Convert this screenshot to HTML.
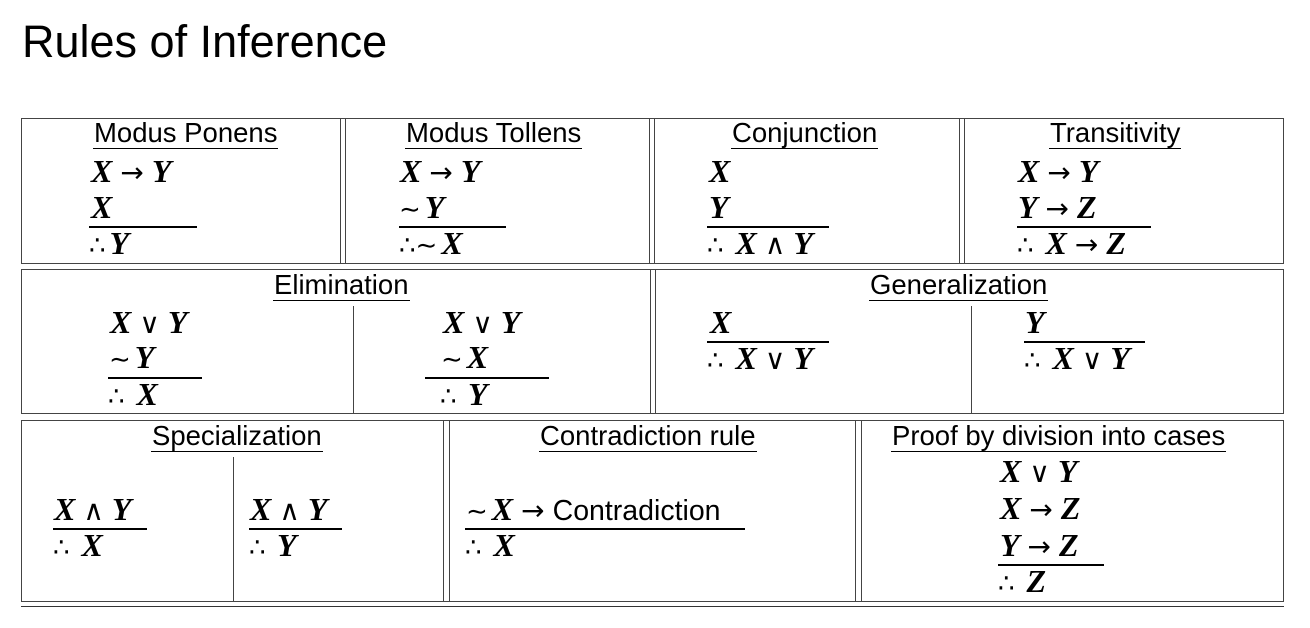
<!DOCTYPE html>
<html><head><meta charset="utf-8"><style>
body{margin:0;width:1310px;height:628px;background:#fff;position:relative;overflow:hidden;font-family:"Liberation Sans",sans-serif;color:#000}
div{position:absolute}
.t{left:22px;top:14px;font-size:45px;line-height:56px}
.b{border:1px solid #444;box-sizing:border-box}
.v{width:1px;background:#444}
.h{position:absolute;font-size:27.5px;line-height:30px;white-space:nowrap;border-bottom:1.5px solid #000;padding:0 1px}
.m{position:absolute;font-family:"Liberation Serif",serif;font-weight:bold;font-style:italic;font-size:32px;line-height:30px;white-space:nowrap}
.m b{font-style:normal;font-weight:normal;font-family:"DejaVu Sans",sans-serif;font-size:28px;margin:0 8px}
.m i{font-style:normal;font-weight:normal;font-family:"DejaVu Sans",sans-serif;font-size:26px;margin-right:4px}
.m s{text-decoration:none;font-style:normal;font-weight:normal;font-family:"Liberation Sans",sans-serif;font-size:28.5px}
.r{height:1.5px;background:#000}
</style></head><body>
<div class="t">Rules of Inference</div>

<!-- row1 -->
<div class="b" style="left:21px;top:118px;width:1263px;height:146px"></div>
<div class="v" style="left:340px;top:118px;height:146px"></div><div class="v" style="left:345px;top:118px;height:146px"></div>
<div class="v" style="left:649px;top:118px;height:146px"></div><div class="v" style="left:654px;top:118px;height:146px"></div>
<div class="v" style="left:959px;top:118px;height:146px"></div><div class="v" style="left:964px;top:118px;height:146px"></div>

<div class="h" style="left:93px;top:118px">Modus Ponens</div>
<div class="m" style="left:91px;top:156px">X<b>→</b>Y</div>
<div class="m" style="left:91px;top:192px">X</div>
<div class="r" style="left:89px;top:226px;width:108px"></div>
<div class="m" style="left:89px;top:228px"><i>∴</i>Y</div>

<div class="h" style="left:405px;top:118px">Modus Tollens</div>
<div class="m" style="left:400px;top:156px">X<b>→</b>Y</div>
<div class="m" style="left:399px;top:192px"><i>∼</i>Y</div>
<div class="r" style="left:399px;top:226px;width:107px"></div>
<div class="m" style="left:399px;top:228px"><i>∴∼</i>X</div>

<div class="h" style="left:731px;top:118px">Conjunction</div>
<div class="m" style="left:709px;top:156px">X</div>
<div class="m" style="left:709px;top:192px">Y</div>
<div class="r" style="left:707px;top:226px;width:122px"></div>
<div class="m" style="left:707px;top:228px"><i>∴</i> X<b>∧</b>Y</div>

<div class="h" style="left:1049px;top:118px">Transitivity</div>
<div class="m" style="left:1018px;top:156px">X<b>→</b>Y</div>
<div class="m" style="left:1018px;top:192px">Y<b>→</b>Z</div>
<div class="r" style="left:1017px;top:226px;width:134px"></div>
<div class="m" style="left:1017px;top:228px"><i>∴</i> X<b>→</b>Z</div>

<!-- row2 -->
<div class="b" style="left:21px;top:269px;width:1263px;height:145px"></div>
<div class="v" style="left:650px;top:269px;height:145px"></div><div class="v" style="left:655px;top:269px;height:145px"></div>
<div class="v" style="left:353px;top:306px;height:108px"></div>
<div class="v" style="left:971px;top:306px;height:108px"></div>

<div class="h" style="left:273px;top:270px">Elimination</div>
<div class="m" style="left:110px;top:307px">X<b>∨</b>Y</div>
<div class="m" style="left:109px;top:342px"><i>∼</i>Y</div>
<div class="r" style="left:108px;top:377px;width:94px"></div>
<div class="m" style="left:108px;top:379px"><i>∴</i> X</div>
<div class="m" style="left:443px;top:307px">X<b>∨</b>Y</div>
<div class="m" style="left:441px;top:342px"><i>∼</i>X</div>
<div class="r" style="left:425px;top:377px;width:124px"></div>
<div class="m" style="left:440px;top:379px"><i>∴</i> Y</div>

<div class="h" style="left:869px;top:270px">Generalization</div>
<div class="m" style="left:710px;top:307px">X</div>
<div class="r" style="left:707px;top:341px;width:122px"></div>
<div class="m" style="left:707px;top:343px"><i>∴</i> X<b>∨</b>Y</div>
<div class="m" style="left:1025px;top:307px">Y</div>
<div class="r" style="left:1024px;top:341px;width:121px"></div>
<div class="m" style="left:1024px;top:343px"><i>∴</i> X<b>∨</b>Y</div>

<!-- row3 -->
<div class="b" style="left:21px;top:420px;width:1263px;height:182px"></div>
<div class="v" style="left:443px;top:420px;height:182px"></div><div class="v" style="left:449px;top:420px;height:182px"></div>
<div class="v" style="left:855px;top:420px;height:182px"></div><div class="v" style="left:861px;top:420px;height:182px"></div>
<div class="v" style="left:233px;top:457px;height:145px"></div>
<div style="left:21px;top:606px;width:1263px;height:1px;background:#333"></div>

<div class="h" style="left:151px;top:421px">Specialization</div>
<div class="m" style="left:54px;top:494px">X<b>∧</b>Y</div>
<div class="r" style="left:53px;top:528px;width:94px"></div>
<div class="m" style="left:53px;top:530px"><i>∴</i> X</div>
<div class="m" style="left:250px;top:494px">X<b>∧</b>Y</div>
<div class="r" style="left:249px;top:528px;width:93px"></div>
<div class="m" style="left:249px;top:530px"><i>∴</i> Y</div>

<div class="h" style="left:539px;top:421px">Contradiction rule</div>
<div class="m" style="left:466px;top:494px"><i>∼</i>X<b>→</b><s>Contradiction</s></div>
<div class="r" style="left:465px;top:528px;width:280px"></div>
<div class="m" style="left:465px;top:530px"><i>∴</i> X</div>

<div class="h" style="left:891px;top:421px">Proof by division into cases</div>
<div class="m" style="left:1000px;top:456px">X<b>∨</b>Y</div>
<div class="m" style="left:1000px;top:493px">X<b>→</b>Z</div>
<div class="m" style="left:1000px;top:530px">Y<b>→</b>Z</div>
<div class="r" style="left:998px;top:564px;width:106px"></div>
<div class="m" style="left:998px;top:566px"><i>∴</i> Z</div>
</body></html>
